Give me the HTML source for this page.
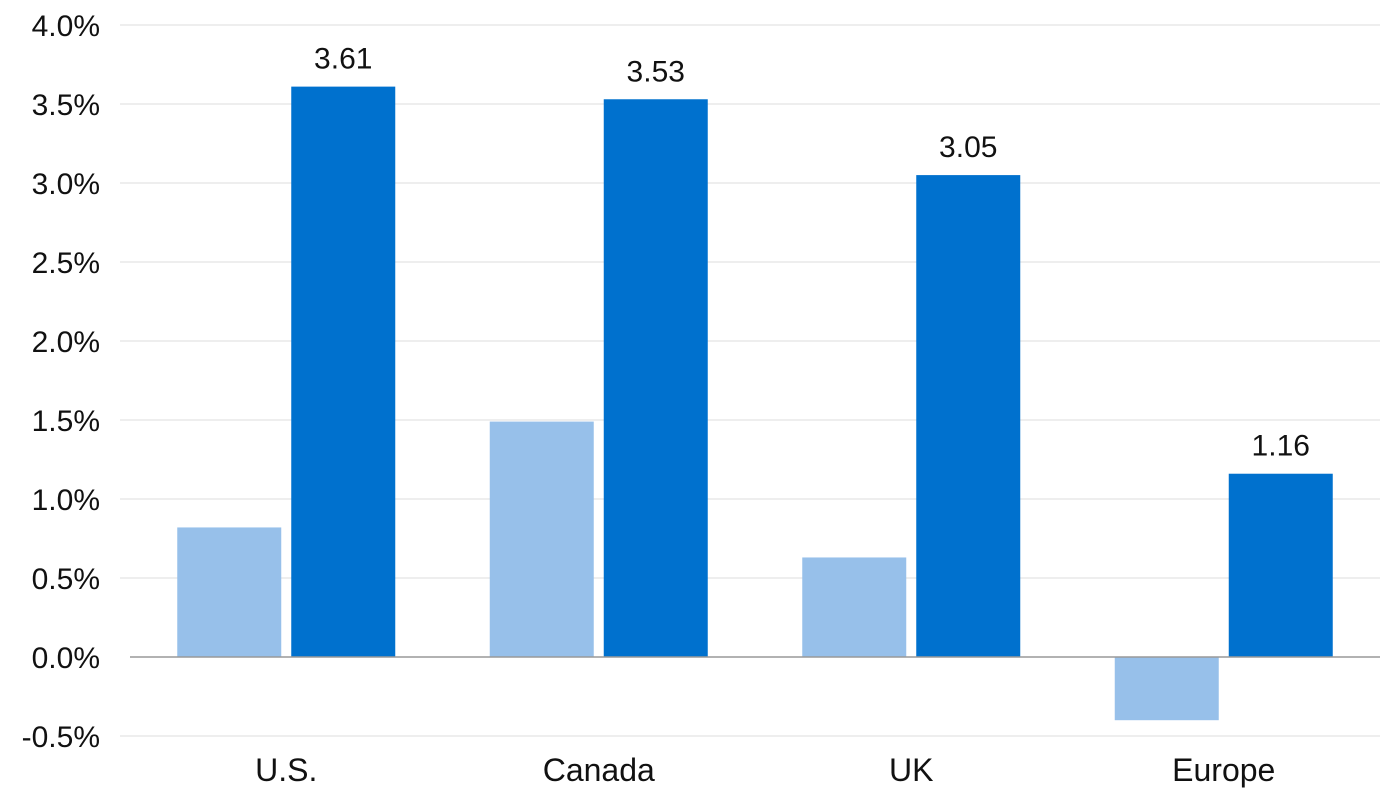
<!DOCTYPE html>
<html><head><meta charset="utf-8"><style>
body{margin:0;background:#fff;}
svg text{font-family:"Liberation Sans",sans-serif;fill:#111;}
</style></head><body>
<svg id="chart" width="1380" height="800"></svg>
<script>
const categories=["U.S.","Canada","UK","Europe"];
const seriesLight=[0.82,1.49,0.63,-0.40];
const seriesDark=[3.61,3.53,3.05,1.16];
const darkLabels=["3.61","3.53","3.05","1.16"];
const yTicks=[-0.5,0,0.5,1,1.5,2,2.5,3,3.5,4];
const yTickLabels=["-0.5%","0.0%","0.5%","1.0%","1.5%","2.0%","2.5%","3.0%","3.5%","4.0%"];
const svg=document.getElementById('chart');
const NS="http://www.w3.org/2000/svg";
const plotL=130,plotR=1380,y0=657,pxPer=158;
const y=v=>y0-v*pxPer;
const band=(plotR-plotL)/categories.length;
const xc=i=>plotL+band*(i+0.5);
function mk(tag,attrs){const e=document.createElementNS(NS,tag);for(const k in attrs)e.setAttribute(k,attrs[k]);svg.appendChild(e);return e;}
yTicks.forEach((t,i)=>{
  if(t!==0){const g=mk('line',{x1:120,x2:1380,y1:y(t),y2:y(t),stroke:'#dcdcdc','stroke-width':1});
  
  }
  const tx=mk('text',{x:100,y:y(t)+11,'text-anchor':'end','font-size':30});
  tx.textContent=yTickLabels[i];
  
  
});
categories.forEach((c,i)=>{
  const cx=xc(i);
  const v1=seriesLight[i];
  const b1=mk('rect',{x:cx-109,width:104,y:Math.min(y(v1),y0),height:Math.abs(y(v1)-y0),fill:'#97c0ea'});
  
  
  const v2=seriesDark[i];
  const b2=mk('rect',{x:cx+5,width:104,y:Math.min(y(v2),y0),height:Math.abs(y(v2)-y0),fill:'#0071ce'});
  
  
  const vl=mk('text',{x:cx+57,y:y(v2)-18,'text-anchor':'middle','font-size':30});
  vl.textContent=darkLabels[i];
  
  
  const cl=mk('text',{x:cx,y:781,'text-anchor':'middle','font-size':32});
  cl.textContent=c;
  
  
});
const z=mk('line',{x1:130,x2:1380,y1:y0,y2:y0,stroke:'#999','stroke-width':1.5});


</script>
</body></html>
